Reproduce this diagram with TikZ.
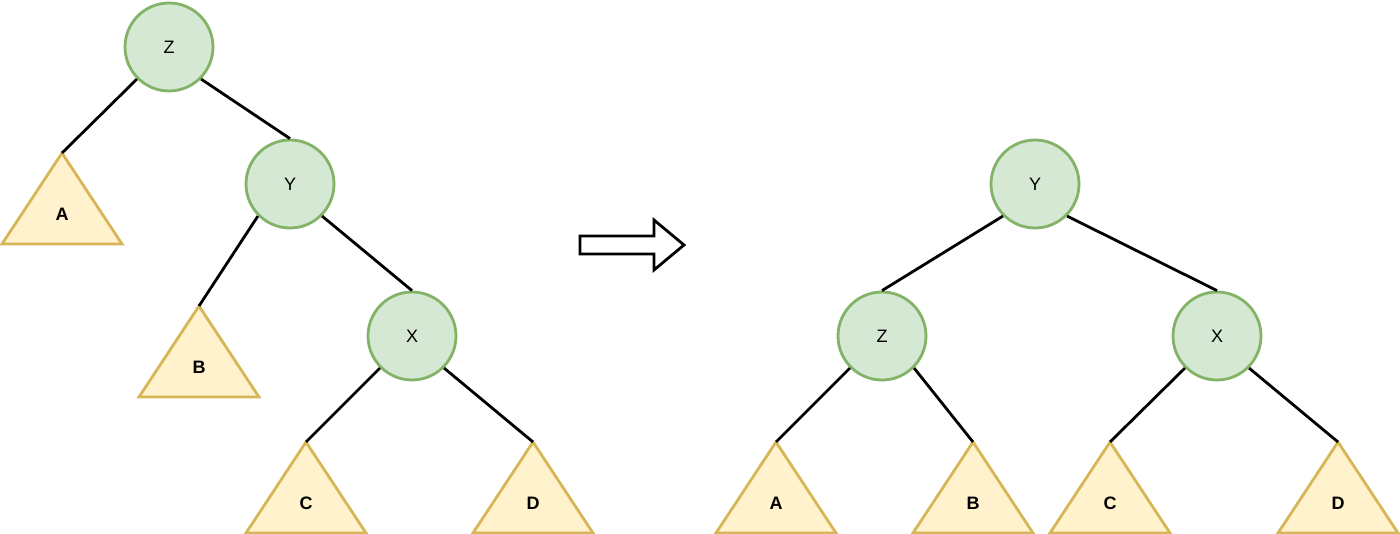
\documentclass[tikz,border=0pt]{standalone}
\usepackage{fontspec}
\setmainfont{Liberation Sans}
\definecolor{gfill}{HTML}{D5E8D4}
\definecolor{gline}{HTML}{82B366}
\definecolor{yfill}{HTML}{FFF2CC}
\definecolor{yline}{HTML}{D6B656}
\tikzset{
  vnode/.style={circle, draw=gline, fill=gfill, line width=2.8pt, minimum size=88pt, inner sep=0pt, font=\fontsize{18}{22}\selectfont},
  tripath/.style={draw=yline, fill=yfill, line width=2.8pt, line join=miter},
  trilabel/.style={inner sep=0pt, font=\fontsize{18}{22}\selectfont\bfseries},
  edge/.style={draw=black, line width=2.8pt},
  bigarrow/.style={draw=black, fill=white, line width=2.8pt, line join=miter}
}
\newcommand{\subtree}[4]{%
  \draw[tripath] (#2,#3) -- ++(60,91) -- ++(-120,0) -- cycle;
  \coordinate (#1) at (#2,#3);
  \node[trilabel] (#1-l) at (#2,#3+61) {#4};
}
\begin{document}
\begin{tikzpicture}[x=1pt,y=-1pt]
\useasboundingbox (0,0) rectangle (1400,534);
% left tree
\node[vnode] (lz) at (169,47) {Z};
\node[vnode] (ly) at (290,184) {Y};
\node[vnode] (lx) at (412,336) {X};
\subtree{la}{62}{153}{A}
\subtree{lb}{199}{306}{B}
\subtree{lc}{306}{442}{C}
\subtree{ld}{533}{442}{D}
\draw[edge] (lz.south west) -- (la);
\draw[edge] (lz.south east) -- (ly.north);
\draw[edge] (ly.south west) -- (lb);
\draw[edge] (ly.south east) -- (lx.north);
\draw[edge] (lx.south west) -- (lc);
\draw[edge] (lx.south east) -- (ld);
% arrow
\draw[bigarrow] (580,236) -- (654,236) -- (654,220) -- (684,245) -- (654,270) -- (654,254) -- (580,254) -- cycle;
% right tree
\node[vnode] (ry) at (1035,184) {Y};
\node[vnode] (rz) at (882,336) {Z};
\node[vnode] (rx) at (1217,336) {X};
\subtree{ra}{776}{442}{A}
\subtree{rb}{973}{442}{B}
\subtree{rc}{1110}{442}{C}
\subtree{rd}{1338}{442}{D}
\draw[edge] (ry.south west) -- (rz.north);
\draw[edge] (ry.south east) -- (rx.north);
\draw[edge] (rz.south west) -- (ra);
\draw[edge] (rz.south east) -- (rb);
\draw[edge] (rx.south west) -- (rc);
\draw[edge] (rx.south east) -- (rd);
\end{tikzpicture}
\end{document}
